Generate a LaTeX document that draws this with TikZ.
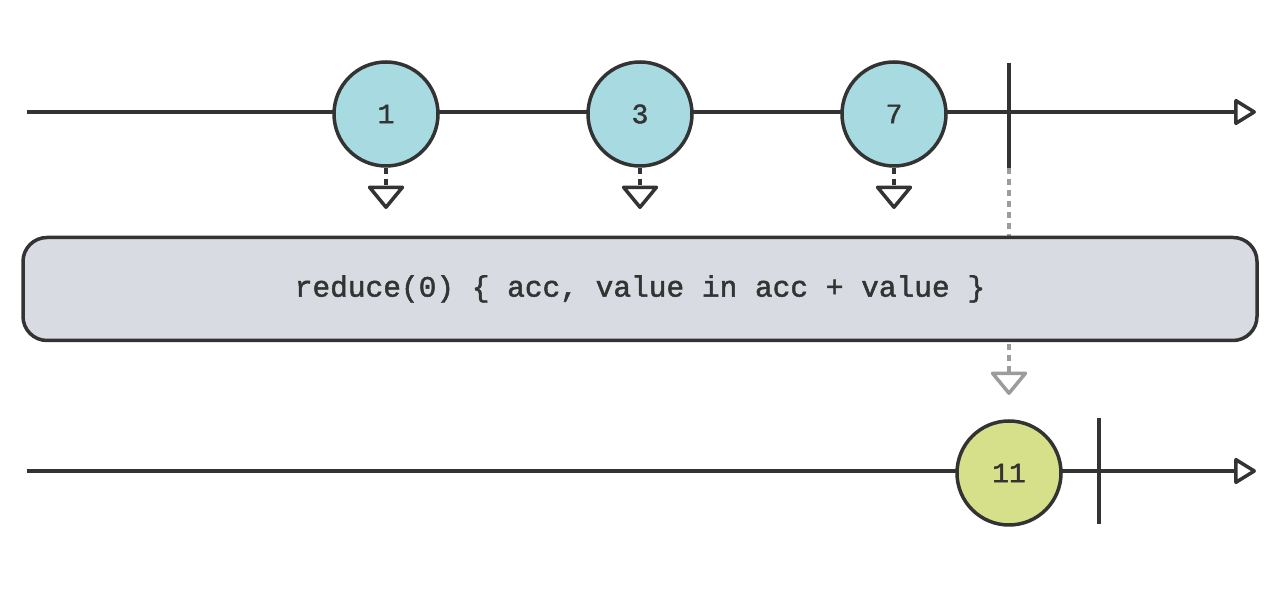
\documentclass[tikz,border=0pt]{standalone}
\usepackage{fontspec}
\newfontfamily\codefont[FakeBold=1.6]{Liberation Mono}
\usetikzlibrary{arrows.meta}
\definecolor{ink}{HTML}{333333}
\definecolor{boxfill}{HTML}{D8DBE2}
\definecolor{bluefill}{HTML}{A8DAE2}
\definecolor{greenfill}{HTML}{D6E08A}
\definecolor{dashgray}{HTML}{9C9C9C}
\tikzset{
  x=1pt, y=1pt,
  timeline/.style={draw=ink, line width=3.5pt, -{Triangle[open, length=23.5pt, width=28pt, line join=round, line width=3.5pt]}},
  tick/.style={draw=ink, line width=3.5pt},
  marble/.style={circle, draw=ink, line width=3.5pt, minimum size=104pt, inner sep=0pt, font=\codefont\fontsize{28}{30}\selectfont, text=ink},
  bluemarble/.style={marble, fill=bluefill},
  greenmarble/.style={marble, fill=greenfill},
  feed/.style={draw=ink, line width=3.5pt, dash pattern=on 6pt off 5pt, -{Triangle[open, length=24.5pt, width=39.5pt, line join=round, line width=3.5pt]}},
  result/.style={draw=dashgray, line width=3.5pt, dash pattern=on 6pt off 5pt, -{Triangle[open, length=24.5pt, width=39.5pt, line join=round, line width=3.5pt]}},
  opbox/.style={draw=ink, fill=boxfill, line width=3.5pt, rounded corners=24pt, minimum width=1234pt, minimum height=103pt, inner sep=0pt, font=\codefont\fontsize{29.5}{32}\selectfont, text=ink},
}
\begin{document}
\begin{tikzpicture}
\useasboundingbox (0,0) rectangle (1280,596);
% top timeline
\coordinate (s1) at (27,484);
\coordinate (e1) at (1256,484);
\draw[timeline] (s1) -- (e1);
\coordinate (t1top) at (1009,533);
\coordinate (t1bot) at (1009,428);
\draw[tick] (t1top) -- (t1bot);
% gray dashed result arrow (behind box)
\coordinate (g) at (1009,201);
\draw[result] (t1bot) -- (g);
% marbles
\node[bluemarble] (m1) at (386,482) {1};
\node[bluemarble] (m3) at (640,482) {3};
\node[bluemarble] (m7) at (894,482) {7};
\coordinate (a1) at (386,387);
\coordinate (a3) at (640,387);
\coordinate (a7) at (894,387);
\draw[feed] (m1.south) -- (a1);
\draw[feed] (m3.south) -- (a3);
\draw[feed] (m7.south) -- (a7);
% operator box
\node[opbox] (op) at (640,307) {reduce(0) \{ acc, value in acc + value \}};
% bottom timeline
\coordinate (s2) at (27,125);
\coordinate (e2) at (1256,125);
\draw[timeline] (s2) -- (e2);
\node[greenmarble] (m11) at (1009,123) {11};
\coordinate (t2top) at (1099,178);
\coordinate (t2bot) at (1099,72);
\draw[tick] (t2top) -- (t2bot);
\end{tikzpicture}
\end{document}
